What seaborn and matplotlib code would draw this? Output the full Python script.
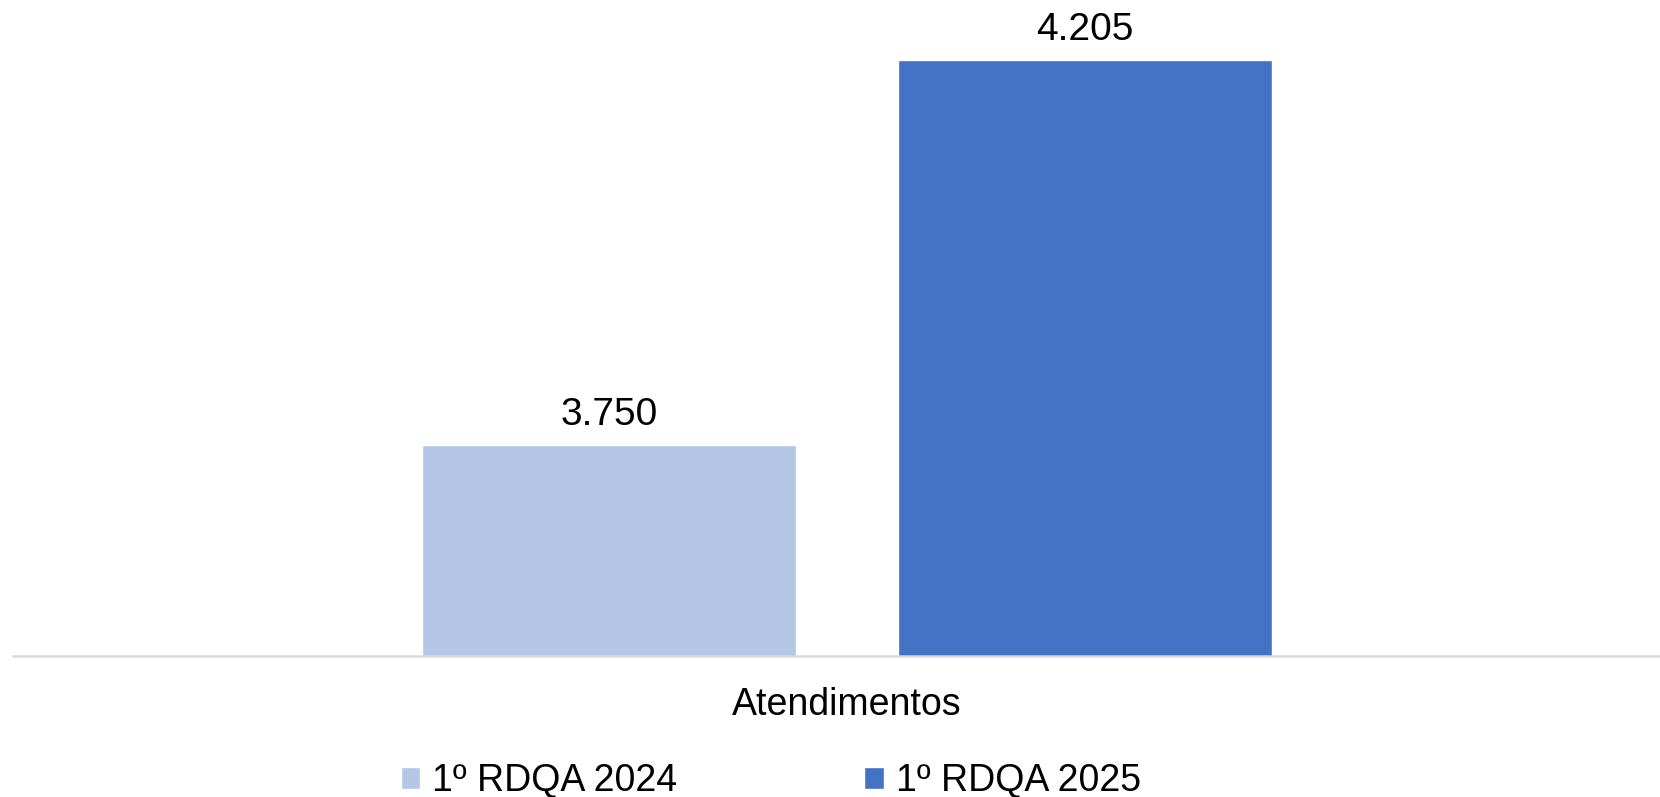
import pandas as pd
import matplotlib
matplotlib.use("Agg")
import matplotlib.pyplot as plt
import seaborn as sns

# dados do grafico
categorias = ["Atendimentos"]
series = ["1º RDQA 2024", "1º RDQA 2025"]
valores_2024 = [3750]
valores_2025 = [4205]
cores = ["#B4C7E7", "#4472C4"]

df = pd.DataFrame({
    "categoria": categorias * 2,
    "serie": [series[0]] * len(categorias) + [series[1]] * len(categorias),
    "valor": valores_2024 + valores_2025,
})

sns.set_theme(style="white")
plt.rcParams["font.family"] = ["Liberation Sans", "DejaVu Sans"]
plt.rcParams["text.color"] = "black"

W, H = 1660, 797
fig = plt.figure(figsize=(W / 100, H / 100), dpi=100)
ax = fig.add_axes([13 / W, (H - 656) / H, (W - 13) / W, 656 / H])

sns.barplot(data=df, x="categoria", y="valor", hue="serie", palette=cores,
            width=0.8, gap=0.213, saturation=1, ax=ax, legend=True)

ax.set_ylim(3500, 3500 + 656 / 0.8454)
ax.set_xlim(-0.7018, 0.684)

# rotulos de dados no formato brasileiro
for cont in ax.containers:
    ax.bar_label(cont, labels=[f"{v:,.0f}".replace(",", ".") for v in cont.datavalues],
                 padding=8.5, fontsize=28, color="black")

for s in ["top", "left", "right"]:
    ax.spines[s].set_visible(False)
ax.spines["bottom"].set_color("#d9d9d9")
ax.spines["bottom"].set_linewidth(1.8)
ax.set_yticks([])
ax.tick_params(axis="x", length=0, pad=22, labelsize=27, colors="black")
ax.set_xlabel("")
ax.set_ylabel("")

handles, labels = ax.get_legend_handles_labels()
ax.get_legend().remove()
fig.legend(handles, labels, loc="center left", bbox_to_anchor=(401 / W, (H - 781.5) / H),
           ncol=2, frameon=False, fontsize=27, borderpad=0, borderaxespad=0,
           handlelength=0.51, handleheight=0.51, handletextpad=0.32,
           columnspacing=4.99, labelcolor="black")

fig.savefig("out.png", dpi=100, facecolor="white")
